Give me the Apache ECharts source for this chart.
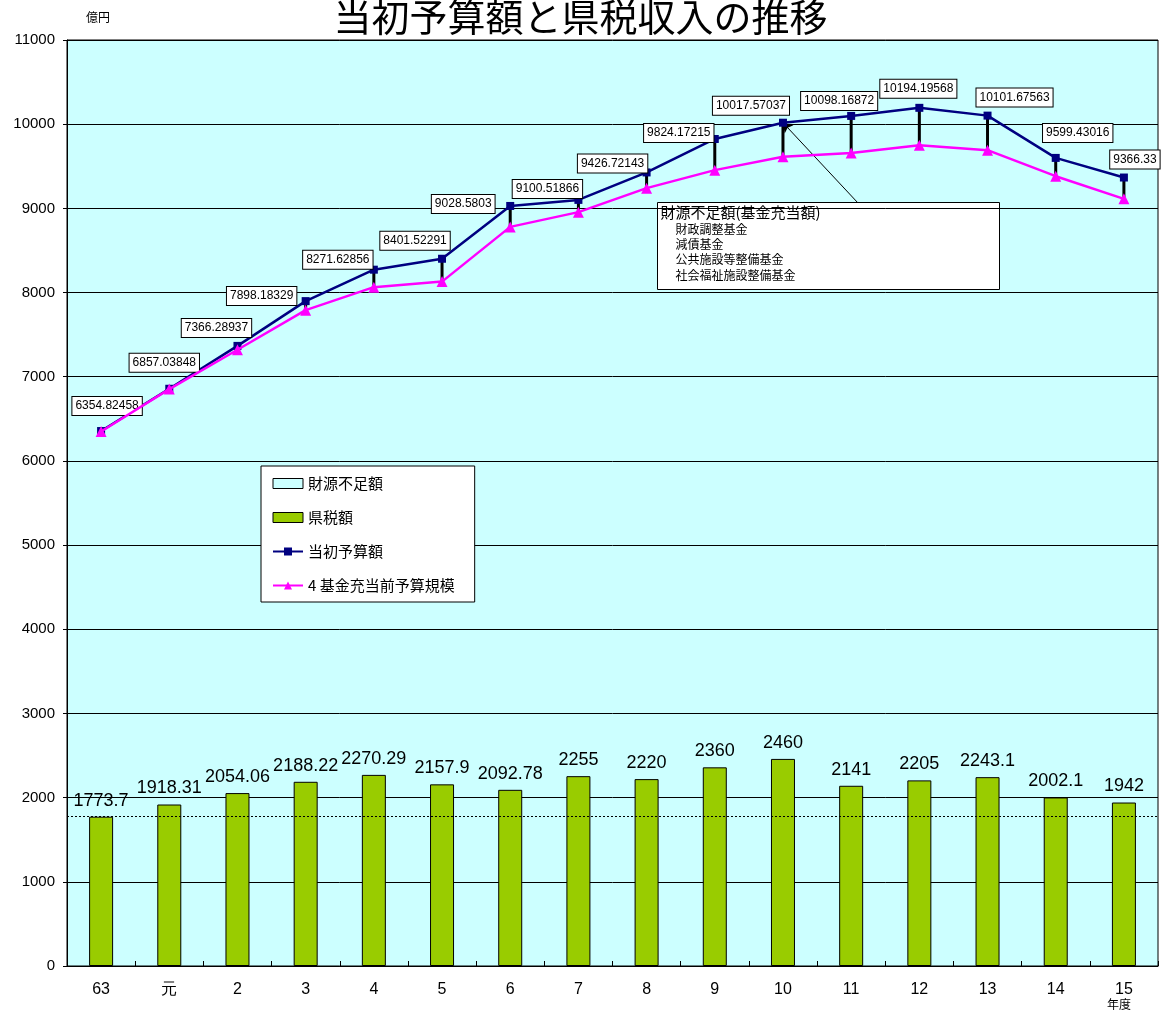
<!DOCTYPE html>
<html>
<head>
<meta charset="utf-8">
<script src="https://cdn.jsdelivr.net/npm/echarts@6/dist/echarts.min.js"></script>
<style>
html,body{margin:0;padding:0;background:#fff;}
#c{width:1161px;height:1019px;}
</style>
</head>
<body>
<div id="c"></div>
<script>
// ---- data ----
const categories = ['63','元','2','3','4','5','6','7','8','9','10','11','12','13','14','15'];
const taxRevenue = [1773.7,1918.31,2054.06,2188.22,2270.29,2157.9,2092.78,2255,2220,2360,2460,2141,2205,2243.1,2002.1,1942];
const initialBudget = [6354.82458,6857.03848,7366.28937,7898.18329,8271.62856,8401.52291,9028.5803,9100.51866,9426.72143,9824.17215,10017.57037,10098.16872,10194.19568,10101.67563,9599.43016,9366.33];
const preFundBudget = [6350,6853,7320,7791,8064,8130,8780,8955,9240,9454,9612,9659,9751,9691,9382,9113];
const yTicks = {min:0, max:11000, step:1000};
const seriesNames = ['財源不足額','県税額','当初予算額','4 基金充当前予算規模'];
const noteTitle = '財源不足額(基金充当額)';
const noteItems = ['財政調整基金','減債基金','公共施設等整備基金','社会福祉施設整備基金'];

// ---- layout (label offsets for manually placed value boxes) ----
const labelOffsets = [[6,-10],[-5,-11],[-21,-3],[-44,10],[-36,5],[-27,-3],[-47,13],[-31,4],[-34,6],[-36,9],[-32,-2],[-12,0],[-1,-4],[27,-3],[22,-10],[11,-3]];

const chart = echarts.init(document.getElementById('c'), null, {renderer:'canvas'});
const sans = 'Liberation Sans, Arial, sans-serif';
const cjk = '"Noto Sans CJK JP", sans-serif';

const gapData = categories.map((c,i)=>[i, preFundBudget[i], initialBudget[i]]);
const blueData = initialBudget.map((v,i)=>({
  value: v,
  label: {offset: labelOffsets[i]}
}));

const option = {
  animation: false,
  backgroundColor: '#ffffff',
  title: {
    text: '当初予算額と県税収入の推移',
    left: 'center',
    top: -7,
    textStyle: {fontFamily: cjk, fontSize: 38, fontWeight: 'normal', color: '#000'}
  },
  grid: {
    left: 67, right: 3, top: 40, bottom: 53,
    show: true, backgroundColor: '#ccffff', borderColor: '#000', borderWidth: 1
  },
  legend: {
    orient: 'vertical',
    left: 261, top: 466,
    backgroundColor: '#fff',
    borderColor: '#000', borderWidth: 1,
    padding: [10, 20, 9, 11],
    itemWidth: 30, itemHeight: 10,
    itemGap: 19,
    textStyle: {fontFamily: cjk, fontSize: 15, color: '#000'},
    data: [
      {name: seriesNames[0], icon: 'rect', itemStyle: {color: '#ccffff', borderColor: '#000', borderWidth: 1}},
      {name: seriesNames[1], icon: 'rect', itemStyle: {color: '#99cc00', borderColor: '#000', borderWidth: 1}},
      {name: seriesNames[2]},
      {name: seriesNames[3]}
    ]
  },
  xAxis: {
    type: 'category',
    data: categories,
    boundaryGap: true,
    axisLine: {lineStyle: {color: '#000', width: 1}},
    axisTick: {show: true, inside: true, length: 5, lineStyle: {color: '#000'}},
    axisLabel: {fontFamily: sans, fontSize: 16, color: '#000', margin: 16, interval: 0}
  },
  yAxis: {
    type: 'value',
    min: yTicks.min, max: yTicks.max, interval: yTicks.step,
    axisLine: {show: true, lineStyle: {color: '#000', width: 1}},
    axisTick: {show: true, length: 4, lineStyle: {color: '#000'}},
    axisLabel: {fontFamily: sans, fontSize: 15, color: '#000', margin: 12, formatter: v => String(v)},
    splitLine: {show: true, lineStyle: {color: '#000', width: 1}}
  },
  series: [
    {
      name: seriesNames[0],
      type: 'custom',
      data: gapData,
      encode: {x: 0, y: [1, 2]},
      itemStyle: {color: '#ccffff', borderColor: '#000'},
      renderItem: function(params, api) {
        const p1 = api.coord([api.value(0), api.value(1)]);
        const p2 = api.coord([api.value(0), api.value(2)]);
        return {type: 'line', shape: {x1: p1[0], y1: p1[1], x2: p2[0], y2: p2[1]}, style: {stroke: '#000', lineWidth: 3}};
      },
      z: 3
    },
    {
      name: seriesNames[1],
      type: 'bar',
      data: taxRevenue,
      barWidth: 24,
      itemStyle: {color: '#99cc00', borderColor: '#000', borderWidth: 1},
      label: {show: true, position: 'top', distance: 7, fontFamily: sans, fontSize: 18, color: '#000'},
      markLine: {
        silent: true,
        symbol: 'none',
        label: {show: false},
        lineStyle: {color: '#000', type: [2, 2], width: 1},
        data: [{yAxis: taxRevenue[0]}]
      },
      z: 2
    },
    {
      name: seriesNames[2],
      type: 'line',
      data: blueData,
      symbol: 'rect',
      symbolSize: 8,
      lineStyle: {color: '#000080', width: 2.5},
      itemStyle: {color: '#000080'},
      label: {
        show: true, position: 'top', distance: 2,
        fontFamily: sans, fontSize: 12, color: '#000',
        backgroundColor: '#fff', borderColor: '#000', borderWidth: 1,
        padding: [3, 3, 3, 3]
      },
      markLine: {
        silent: true,
        label: {show: false},
        lineStyle: {color: '#000', type: 'solid', width: 1},
        symbolSize: 9,
        data: [[
          {x: 858, y: 203, symbol: 'none'},
          {coord: [10, initialBudget[10]], symbol: 'arrow'}
        ]]
      },
      z: 5
    },
    {
      name: seriesNames[3],
      type: 'line',
      data: preFundBudget,
      symbol: 'triangle',
      symbolSize: 11,
      lineStyle: {color: '#ff00ff', width: 2.5},
      itemStyle: {color: '#ff00ff'},
      z: 6
    }
  ],
  graphic: [
    {type: 'text', left: 86, top: 11, style: {text: '億円', font: '12px "Noto Sans CJK JP", sans-serif', fill: '#000'}},
    {type: 'text', left: 1107, top: 998, style: {text: '年度', font: '12px "Noto Sans CJK JP", sans-serif', fill: '#000'}},
    {
      type: 'group', left: 657, top: 202, z: 20,
      children: [
        {type: 'rect', shape: {x: 0, y: 0, width: 342, height: 87}, style: {fill: '#fff', stroke: '#000', lineWidth: 1}},
        {type: 'text', x: 3, y: 2, style: {text: noteTitle, font: '15px "Noto Sans CJK JP", sans-serif', fill: '#000'}},
        {type: 'text', x: 18, y: 21, style: {text: noteItems[0], font: '12px "Noto Sans CJK JP", sans-serif', fill: '#000'}},
        {type: 'text', x: 18, y: 36, style: {text: noteItems[1], font: '12px "Noto Sans CJK JP", sans-serif', fill: '#000'}},
        {type: 'text', x: 18, y: 51, style: {text: noteItems[2], font: '12px "Noto Sans CJK JP", sans-serif', fill: '#000'}},
        {type: 'text', x: 18, y: 67, style: {text: noteItems[3], font: '12px "Noto Sans CJK JP", sans-serif', fill: '#000'}}
      ]
    }
  ]
};
chart.setOption(option);
</script>
</body>
</html>
